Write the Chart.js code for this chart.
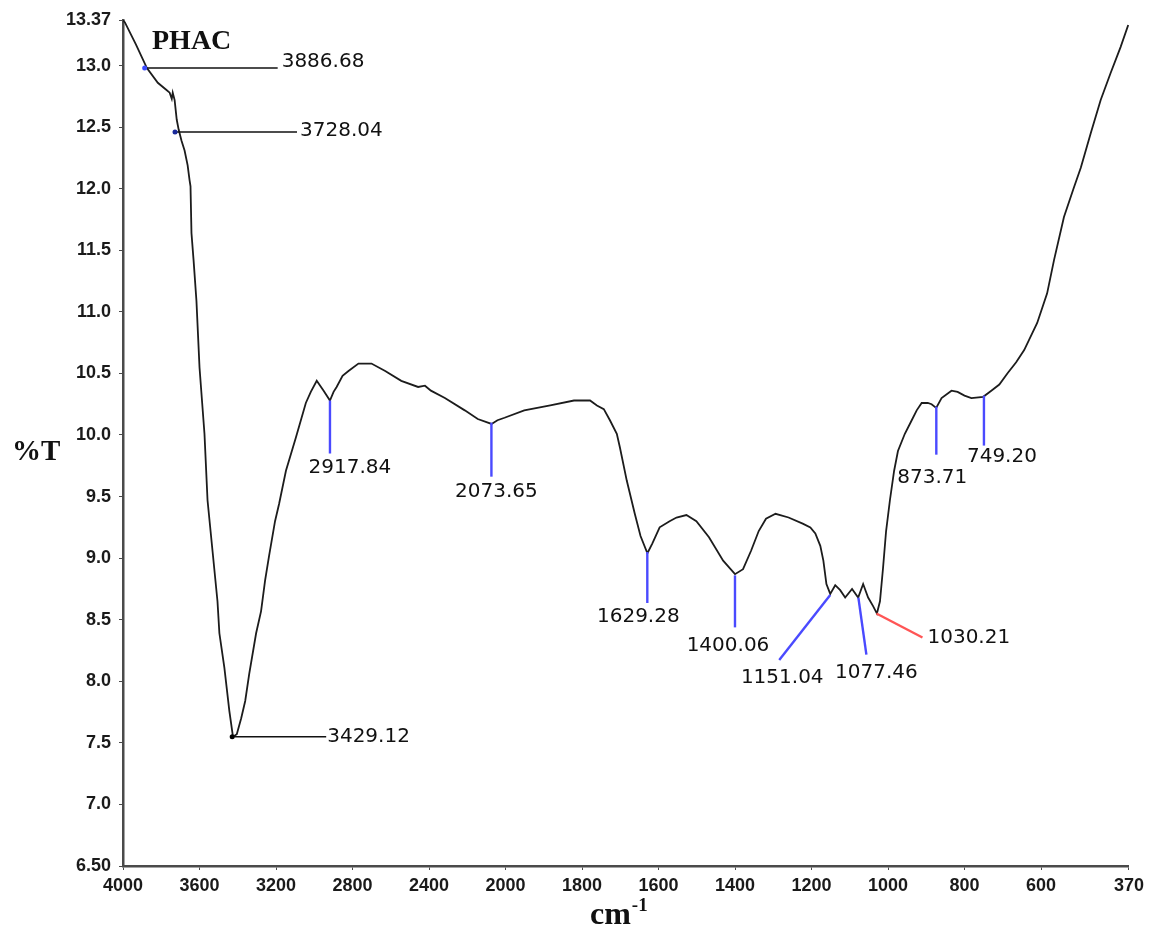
<!DOCTYPE html>
<html>
<head>
<meta charset="utf-8">
<title>PHAC FTIR</title>
<script src="https://cdn.jsdelivr.net/npm/chart.js@4.4.1/dist/chart.umd.min.js"></script>
<style>
  html, body { margin: 0; padding: 0; background: #fff; }
  #wrap { width: 1149px; height: 927px; }
</style>
</head>
<body>
<div id="wrap"><canvas id="ftirChart" width="1149" height="927"></canvas></div>
<script>
// spectrum (wavenumber in cm-1, %T)
const wavenumbers = [
  4000, 3990, 3932, 3875, 3818, 3771, 3756, 3745, 3740, 3730, 3719, 3709, 3694, 3678, 3662, 3652,
  3647, 3642, 3631, 3616, 3600, 3574, 3558, 3532, 3506, 3496, 3470, 3444, 3425, 3405, 3382, 3361,
  3340, 3304, 3278, 3257, 3236, 3205, 3184, 3148, 3096, 3044, 3018, 2987, 2951, 2918, 2899, 2883,
  2852, 2821, 2769, 2701, 2629, 2545, 2457, 2421, 2390, 2317, 2213, 2145, 2073, 2042, 2005, 1951,
  1883, 1821, 1779, 1761, 1743, 1727, 1709, 1701, 1683, 1662, 1647, 1629, 1616, 1597, 1571, 1553,
  1527, 1501, 1468, 1431, 1400, 1379, 1358, 1338, 1319, 1294, 1260, 1223, 1203, 1190, 1177, 1169,
  1161, 1151, 1138, 1125, 1112, 1094, 1078, 1065, 1052, 1039, 1029, 1021, 1013, 1005, 995, 984,
  974, 956, 938, 925, 912, 896, 886, 874, 860, 834, 818, 800, 782, 751, 730, 709,
  688, 665, 644, 610, 584, 566, 540, 514, 496, 470, 444, 418, 392, 372
];
const transmittance = [
  13.37, 13.35, 13.17, 12.98, 12.86, 12.80, 12.78, 12.73, 12.78, 12.72, 12.56, 12.48, 12.39, 12.31, 12.19, 12.07,
  12.02, 11.64, 11.42, 11.09, 10.55, 10.01, 9.47, 9.06, 8.65, 8.39, 8.11, 7.76, 7.55, 7.57, 7.70, 7.84,
  8.06, 8.39, 8.57, 8.82, 9.02, 9.30, 9.44, 9.71, 9.98, 10.26, 10.35, 10.44, 10.36, 10.28, 10.35, 10.39,
  10.48, 10.52, 10.58, 10.58, 10.52, 10.44, 10.39, 10.40, 10.36, 10.30, 10.20, 10.13, 10.09, 10.12, 10.14, 10.20,
  10.24, 10.28, 10.28, 10.24, 10.21, 10.12, 10.01, 9.90, 9.63, 9.36, 9.18, 9.04, 9.12, 9.25, 9.30, 9.33,
  9.35, 9.30, 9.17, 8.98, 8.87, 8.91, 9.06, 9.22, 9.32, 9.36, 9.33, 9.28, 9.25, 9.20, 9.10, 8.98,
  8.79, 8.71, 8.78, 8.74, 8.68, 8.75, 8.68, 8.79, 8.68, 8.61, 8.55, 8.65, 8.92, 9.22, 9.47, 9.71,
  9.87, 10.01, 10.12, 10.20, 10.26, 10.26, 10.25, 10.22, 10.30, 10.36, 10.35, 10.32, 10.30, 10.31, 10.36, 10.41,
  10.50, 10.59, 10.69, 10.91, 11.15, 11.42, 11.77, 12.01, 12.17, 12.45, 12.72, 12.94, 13.15, 13.33
];

const xTickValues = [4000, 3600, 3200, 2800, 2400, 2000, 1800, 1600, 1400, 1200, 1000, 800, 600, 370];
const xTickLabels = ["4000", "3600", "3200", "2800", "2400", "2000", "1800", "1600", "1400", "1200", "1000", "800", "600", "370"];
const yTickValues = [6.5, 7.0, 7.5, 8.0, 8.5, 9.0, 9.5, 10.0, 10.5, 11.0, 11.5, 12.0, 12.5, 13.0, 13.37];
const yTickLabels = ["6.50", "7.0", "7.5", "8.0", "8.5", "9.0", "9.5", "10.0", "10.5", "11.0", "11.5", "12.0", "12.5", "13.0", "13.37"];

const peakWavenumbers = [3886.68, 3728.04, 3429.12, 2917.84, 2073.65, 1629.28, 1400.06, 1151.04, 1077.46, 1030.21, 873.71, 749.20];
const peakTransmittance = [12.98, 12.46, 7.55, 10.28, 10.10, 9.05, 8.86, 8.70, 8.68, 8.55, 10.23, 10.32];
const peakLabels = ["3886.68", "3728.04", "3429.12", "2917.84", "2073.65", "1629.28", "1400.06", "1151.04", "1077.46", "1030.21", "873.71", "749.20"];

// callout look: line end and text offset from the peak point, in pixels
const calloutStyle = [
  { dx: 133, dy: 0, color: "#111", tx: 137, ty: -6, align: "left", mark: "#3b4bff" },
  { dx: 122, dy: 0, color: "#111", tx: 125, ty: -1, align: "left", mark: "#1a2a9a" },
  { dx: 94, dy: 0, color: "#111", tx: 95, ty: 0, align: "left", mark: "#000" },
  { dx: 0, dy: 53, color: "#4a4aff", tx: 20, ty: 67, align: "center" },
  { dx: 0, dy: 54, color: "#4a4aff", tx: 5, ty: 69, align: "center" },
  { dx: 0, dy: 51, color: "#4a4aff", tx: -9, ty: 65, align: "center" },
  { dx: 0, dy: 52, color: "#4a4aff", tx: -7, ty: 70, align: "center" },
  { dx: -51, dy: 65, color: "#4a4aff", tx: -48, ty: 83, align: "center" },
  { dx: 8, dy: 57, color: "#4a4aff", tx: 18, ty: 75, align: "center" },
  { dx: 46, dy: 24, color: "#ff5555", tx: 51, ty: 24, align: "left" },
  { dx: 0, dy: 48, color: "#4a4aff", tx: -4, ty: 71, align: "center" },
  { dx: 0, dy: 50, color: "#4a4aff", tx: 18, ty: 61, align: "center" }
];

// the wavenumber axis changes scale at 2000 cm-1 (400 per division above, 200 below)
function toAxis(w) {
  return w >= 2000 ? (4000 - w) / 400 : 5 + (2000 - w) / 200;
}

const points = wavenumbers.map((w, i) => ({ x: toAxis(w), y: transmittance[i] }));

const calloutPlugin = {
  id: "callouts",
  afterDatasetsDraw(chart) {
    const ctx = chart.ctx;
    const xs = chart.scales.x;
    const ys = chart.scales.y;
    ctx.save();
    peakWavenumbers.forEach((w, i) => {
      const s = calloutStyle[i];
      const ax = xs.getPixelForValue(toAxis(w));
      const ay = ys.getPixelForValue(peakTransmittance[i]);
      ctx.strokeStyle = s.color;
      ctx.lineWidth = s.color === "#111" ? 1.6 : 2.4;
      ctx.beginPath();
      ctx.moveTo(ax, ay);
      ctx.lineTo(ax + s.dx, ay + s.dy);
      ctx.stroke();
      if (s.mark) {
        ctx.fillStyle = s.mark;
        ctx.beginPath();
        ctx.arc(ax, ay, 2.5, 0, Math.PI * 2);
        ctx.fill();
      }
      ctx.fillStyle = "#111";
      ctx.font = "20px 'DejaVu Sans'";
      ctx.textAlign = s.align;
      ctx.textBaseline = "middle";
      ctx.fillText(peakLabels[i], ax + s.tx, ay + s.ty);
    });

    // titles
    ctx.fillStyle = "#111";
    ctx.textAlign = "left";
    ctx.textBaseline = "alphabetic";
    ctx.font = "bold 28px 'Liberation Serif'";
    ctx.fillText("PHAC", 152, 49);
    ctx.font = "bold 29px 'Liberation Serif'";
    ctx.fillText("%T", 12, 460);
    ctx.font = "bold 32px 'Liberation Serif'";
    ctx.fillText("cm", 590, 924);
    const cmW = ctx.measureText("cm").width;
    ctx.font = "bold 19px 'Liberation Serif'";
    ctx.fillText("-1", 590 + cmW + 1, 911);
    ctx.restore();
  }
};

const axisColor = "#4a4a4a";
const tickFont = { family: "'Liberation Sans'", size: 18, weight: "bold" };

new Chart(document.getElementById("ftirChart").getContext("2d"), {
  type: "line",
  data: {
    datasets: [{
      data: points,
      borderColor: "#1c1c1c",
      borderWidth: 1.8,
      pointRadius: 0,
      tension: 0,
      fill: false
    }]
  },
  options: {
    responsive: false,
    animation: false,
    layout: { padding: { left: 0, top: 20, right: 16, bottom: 0 } },
    plugins: { legend: { display: false }, tooltip: { enabled: false } },
    scales: {
      x: {
        type: "linear",
        min: 0,
        max: toAxis(370),
        afterBuildTicks(scale) { scale.ticks = xTickValues.map(w => ({ value: toAxis(w) })); },
        afterFit(scale) { scale.height = 61; },
        ticks: {
          autoSkip: false,
          maxRotation: 0,
          minRotation: 0,
          padding: 5,
          color: "#1a1a1a",
          font: tickFont,
          callback: (value, i) => xTickLabels[i]
        },
        grid: { drawOnChartArea: false, drawTicks: true, tickLength: 4, color: axisColor },
        border: { display: true, color: axisColor, width: 2.5 }
      },
      y: {
        type: "linear",
        min: 6.5,
        max: 13.37,
        afterBuildTicks(scale) { scale.ticks = yTickValues.map(v => ({ value: v })); },
        afterFit(scale) { scale.width = 123; },
        ticks: {
          autoSkip: false,
          padding: 8,
          color: "#1a1a1a",
          font: tickFont,
          callback: (value, i) => yTickLabels[i]
        },
        grid: { drawOnChartArea: false, drawTicks: true, tickLength: 4, color: axisColor },
        border: { display: true, color: axisColor, width: 2.5 }
      }
    }
  },
  plugins: [calloutPlugin]
});
</script>
</body>
</html>
